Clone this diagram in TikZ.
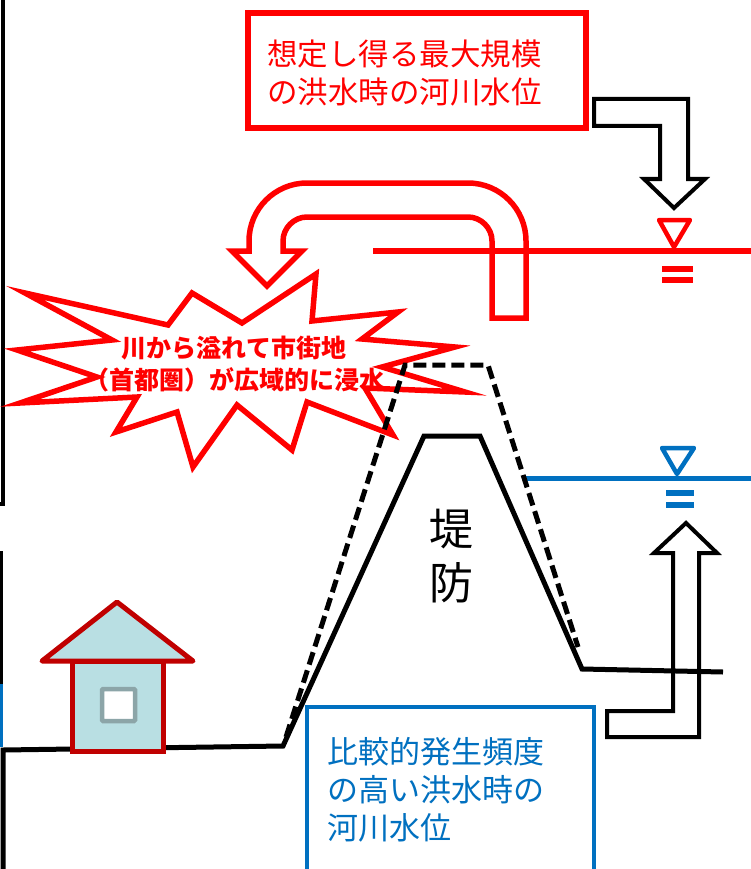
\documentclass[tikz,border=0pt]{standalone}
\usepackage{fontspec}
\setmainfont{Noto Sans CJK JP}

\definecolor{floodred}{RGB}{255,0,0}
\definecolor{riverblue}{RGB}{0,112,192}
\definecolor{roofred}{RGB}{192,0,0}
\definecolor{wallblue}{RGB}{185,223,227}
\definecolor{framegray}{RGB}{140,165,168}

\tikzset{
    bank/.style={line width=5pt},
    oldbank/.style={bank, dash pattern=on 13pt off 6pt},
    flood/.style={draw=floodred, line width=5.5pt},
    river/.style={draw=riverblue, line width=5pt},
    hollow/.style={line width=4pt},
    levelmark/.style={line width=4.5pt, line join=round},
}

\begin{document}
\begin{tikzpicture}[x=1pt, y=-1pt]
        \useasboundingbox (0,0) rectangle (751,869);
        \clip (0,0) rectangle (751,869);

        % edges of the neighbouring panels
        \draw[line width=3.5pt] (-3,504) -- (3,504) -- (3,-5);
        \draw[line width=3.5pt] (-3,553) -- (1,553) -- (1,682) -- (-3,682);
        \draw[riverblue, line width=3.5pt] (1,684) -- (1,747);

        % water levels
        \draw[flood] (373,251) -- (760,251);
        \draw[flood, levelmark] (659,220) -- (690,220) -- (674,247) -- cycle;
        \draw[flood, line width=6pt] (662,268.5) -- (693,268.5) (662,279.5) -- (693,279.5);
        \draw[river] (526,478) -- (760,478);
        \draw[riverblue, levelmark] (662,448) -- (694,448) -- (677,474) -- cycle;
        \draw[riverblue, line width=6pt] (666,493) -- (694,493) (666,505) -- (694,505);

        % overflow burst
        \draw[flood, line join=miter] (25,293) -- (168,325) -- (192,293) -- (242,323)
            -- (316,274) -- (312,321) -- (398,312) -- (362,339) -- (455,347)
            -- (382,367) -- (465,392) -- (365,388) -- (393,435) -- (307,402)
            -- (292,450) -- (237,405) -- (193,467) -- (177,412) -- (116,432)
            -- (137,397) -- (20,403) -- (97,377) -- (17,350) -- (112,340) -- cycle;
        \node[floodred, font=\fontsize{25}{32}\selectfont\bfseries, align=center, inner sep=0pt]
            (burst) at (234,364) {川から溢れて市街地\\（首都圏）が広域的に浸水};

        % overflow arrow
        \draw[flood, line join=miter] (492,318) -- (492,241) .. controls (492,228) and (481,217) .. (468,217)
            -- (307,217) .. controls (294,217) and (283,228) .. (283,241) -- (283,251) -- (302,251)
            -- (267,286) -- (232,251) -- (249,251) -- (249,241) .. controls (249,209) and (275,183) .. (307,183)
            -- (468,183) .. controls (500,183) and (526,209) .. (526,241) -- (526,318) -- cycle;

        % levee, raised and present
        \draw[oldbank] (286,737) -- (405,365) -- (488,365) -- (578,647);
        \draw[bank] (3,880) -- (3,750) -- (283,746) -- (424,436) -- (480,436) -- (582,669) -- (723,672);
        \node[font=\fontsize{44}{54}\selectfont, align=center, inner sep=0pt] (levee) at (451,556) {堤\\防};

        % house
        \draw[roofred, fill=wallblue, line width=5pt] (72,661) rectangle (163,751);
        \draw[roofred, fill=wallblue, line width=5pt, line join=round] (42,661) -- (117,602) -- (193,661) -- cycle;
        \draw[framegray, fill=white, line width=4.5pt, rounded corners=1pt] (102,689) rectangle (135,721);

        % pointers to the levels
        \draw[hollow] (594,99) -- (688,99) -- (688,179) -- (705,179) -- (674,208)
            -- (644,179) -- (660,179) -- (660,126) -- (594,126) -- cycle;
        \draw[hollow] (607,711) -- (673,711) -- (673,553) -- (654,553) -- (686,523)
            -- (717,553) -- (699,553) -- (699,737) -- (607,737) -- cycle;

        % captions
        \draw[flood, fill=white] (248,13) rectangle (586,128);
        \node[floodred, font=\fontsize{30.5}{38}\selectfont, align=left, anchor=west, inner sep=0pt]
            (maxlevel) at (267,73) {想定し得る最大規模\\の洪水時の河川水位};
        \draw[riverblue, fill=white, line width=4.5pt] (307,707) rectangle (594,900);
        \node[riverblue, font=\fontsize{31}{38}\selectfont, align=left, anchor=west, inner sep=0pt]
            (usuallevel) at (327,790) {比較的発生頻度\\の高い洪水時の\\河川水位};
\end{tikzpicture}
\end{document}
